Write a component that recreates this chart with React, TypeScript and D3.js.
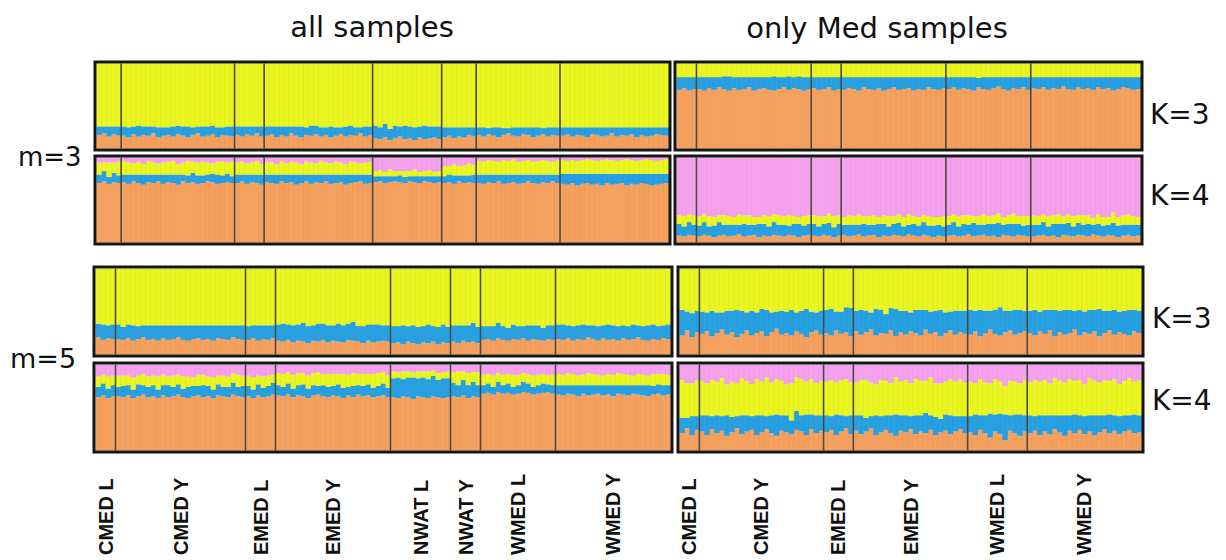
import React from "react";
import * as d3 from "d3";

// population groups, left to right
const groupsAll = ["CMED L", "CMED Y", "EMED L", "EMED Y", "NWAT L", "NWAT Y", "WMED L", "WMED Y"];
const groupsMed = ["CMED L", "CMED Y", "EMED L", "EMED Y", "WMED L", "WMED Y"];

// ancestry proportions (%) per individual, one inner array per group
// m=3, all samples, K=3 (yellow = rest)
const all3K3Orange = [
  [16, 18, 14, 17, 15],
  [15, 13, 17, 14, 16, 15, 18, 13, 15, 16, 14, 17, 15, 13, 16, 18, 14, 15, 17, 13, 16, 15, 14],
  [16, 14, 17, 15, 18, 14],
  [15, 17, 13, 16, 14, 18, 15, 13, 16, 15, 17, 14, 16, 13, 15, 17, 14, 16, 15, 18, 14, 16],
  [12, 11, 13, 10, 12, 14, 11, 12, 10, 13, 11, 12, 13, 11],
  [13, 15, 12, 14, 13, 16, 14],
  [16, 14, 17, 15, 13, 16, 18, 15, 14, 17, 16, 13, 15, 17, 14, 16, 15],
  [15, 17, 14, 16, 15, 13, 17, 16, 14, 15, 18, 14, 16, 15, 17, 13, 16, 14, 15, 17, 16, 15],
];
const all3K3Blue = [
  [10, 8, 12, 9, 11],
  [11, 12, 9, 13, 10, 11, 8, 12, 10, 9, 12, 10, 11, 13, 9, 8, 12, 11, 10, 12, 9, 11, 12],
  [10, 12, 9, 11, 8, 12],
  [11, 9, 13, 10, 12, 8, 11, 13, 9, 12, 10, 11, 9, 13, 10, 8, 12, 11, 10, 7, 12, 10],
  [15, 14, 16, 13, 15, 12, 16, 14, 15, 13, 16, 14, 13, 15],
  [12, 10, 13, 11, 12, 9, 11],
  [9, 11, 7, 10, 12, 8, 6, 10, 11, 8, 9, 12, 10, 7, 11, 9, 10],
  [10, 8, 11, 9, 10, 12, 8, 9, 11, 10, 7, 11, 9, 10, 8, 12, 9, 11, 10, 8, 9, 10],
];

// m=3, all samples, K=4 (pink = rest)
const all3K4Orange = [
  [70, 72, 69, 71, 70],
  [71, 69, 72, 70, 68, 71, 70, 72, 69, 71, 70, 68, 72, 70, 71, 69, 70, 72, 71, 69, 70, 71, 70],
  [70, 72, 69, 71, 70, 68],
  [71, 70, 69, 72, 70, 71, 68, 70, 72, 69, 71, 70, 72, 69, 70, 71, 68, 70, 71, 72, 69, 70],
  [71, 72, 70, 71, 72, 71, 70, 72, 71, 70, 72, 71, 70, 71],
  [70, 71, 69, 72, 70, 71, 70],
  [70, 69, 71, 70, 72, 69, 70, 71, 69, 70, 72, 70, 69, 71, 70, 72, 70],
  [69, 68, 70, 67, 69, 70, 68, 69, 67, 70, 68, 69, 70, 67, 69, 68, 70, 69, 67, 68, 69, 70],
];
const all3K4Blue = [
  [10, 12, 8, 11, 9],
  [9, 11, 8, 10, 12, 9, 10, 8, 11, 9, 10, 12, 8, 9, 11, 10, 9, 8, 10, 11, 9, 10, 8],
  [10, 8, 11, 9, 10, 12],
  [9, 10, 11, 8, 10, 9, 12, 10, 8, 11, 9, 10, 8, 11, 10, 9, 12, 10, 9, 8, 11, 10],
  [7, 6, 8, 7, 6, 8, 7, 6, 7, 8, 6, 7, 8, 7],
  [8, 9, 10, 7, 9, 8, 10],
  [10, 11, 9, 10, 8, 11, 10, 9, 11, 10, 8, 10, 11, 9, 10, 8, 10],
  [12, 13, 11, 14, 12, 11, 13, 12, 14, 11, 13, 12, 11, 14, 12, 13, 11, 12, 14, 13, 12, 11],
];
const all3K4Yellow = [
  [14, 10, 17, 12, 16],
  [16, 14, 13, 15, 12, 16, 14, 13, 14, 15, 16, 12, 14, 17, 13, 15, 16, 14, 12, 15, 16, 13, 17],
  [14, 15, 13, 14, 16, 12],
  [15, 14, 12, 16, 13, 15, 14, 12, 15, 14, 13, 16, 14, 13, 15, 14, 12, 15, 14, 13, 14, 15],
  [6, 7, 5, 8, 6, 5, 7, 6, 8, 5, 6, 7, 5, 6],
  [12, 10, 13, 11, 12, 14, 11],
  [16, 15, 17, 16, 15, 17, 16, 18, 15, 16, 17, 15, 16, 17, 16, 15, 17],
  [16, 15, 16, 15, 16, 17, 16, 15, 16, 17, 16, 15, 16, 17, 16, 15, 16, 17, 16, 15, 16, 17],
];

// m=3, Med samples, K=3 (yellow = rest)
const med3K3Orange = [
  [69, 71, 68, 70],
  [70, 68, 71, 69, 72, 70, 68, 71, 69, 70, 72, 68, 70, 71, 69, 68, 70, 72, 69, 71, 70, 68, 70],
  [71, 69, 70, 72, 68, 70],
  [69, 71, 70, 68, 72, 70, 69, 71, 68, 70, 72, 69, 70, 71, 68, 70, 69, 72, 70, 69, 71],
  [70, 72, 69, 71, 70, 68, 72, 70, 69, 71, 73, 70, 68, 71, 70, 72, 69],
  [71, 70, 72, 69, 71, 70, 73, 70, 69, 72, 70, 71, 69, 72, 70, 71, 68, 70, 72, 71, 69, 70],
];
const med3K3Blue = [
  [15, 13, 16, 14],
  [14, 16, 13, 15, 12, 15, 17, 13, 15, 14, 12, 16, 14, 13, 15, 17, 14, 12, 16, 13, 15, 16, 14],
  [13, 15, 14, 12, 16, 14],
  [15, 13, 14, 16, 12, 14, 15, 13, 16, 14, 12, 15, 14, 13, 16, 14, 15, 12, 14, 15, 13],
  [14, 12, 15, 13, 14, 16, 11, 14, 15, 13, 11, 14, 16, 13, 14, 12, 15],
  [13, 14, 12, 15, 13, 14, 11, 14, 15, 12, 14, 13, 15, 12, 14, 13, 16, 14, 12, 13, 15, 14],
];

// m=3, Med samples, K=4 (pink = rest)
const med3K4Orange = [
  [8, 7, 9, 8],
  [7, 9, 8, 6, 8, 9, 7, 8, 10, 7, 8, 9, 6, 8, 7, 9, 8, 7, 9, 8, 6, 8, 9],
  [8, 7, 9, 8, 6, 8],
  [9, 7, 8, 10, 7, 8, 9, 6, 8, 7, 9, 8, 7, 10, 8, 7, 9, 8, 6, 8, 7],
  [8, 9, 7, 8, 10, 7, 8, 9, 7, 8, 6, 9, 8, 7, 9, 8, 7],
  [7, 8, 9, 7, 8, 6, 9, 8, 7, 9, 8, 7, 10, 8, 7, 9, 8, 6, 8, 9, 7, 8],
];
const med3K4Blue = [
  [14, 12, 15, 13],
  [13, 15, 11, 14, 16, 12, 14, 13, 11, 15, 13, 12, 16, 14, 12, 15, 13, 14, 11, 14, 16, 12, 13],
  [14, 12, 13, 15, 12, 14],
  [12, 14, 13, 11, 15, 13, 12, 16, 14, 12, 13, 15, 12, 11, 14, 13, 15, 12, 14, 13, 12],
  [13, 15, 12, 14, 11, 16, 13, 12, 15, 14, 17, 12, 14, 15, 13, 12, 14],
  [14, 13, 15, 12, 14, 16, 13, 15, 12, 14, 13, 15, 11, 14, 13, 12, 15, 14, 13, 12, 14, 13],
];
const med3K4Yellow = [
  [10, 12, 9, 11],
  [11, 9, 12, 10, 8, 11, 10, 9, 12, 10, 11, 9, 8, 10, 12, 9, 11, 10, 12, 9, 8, 11, 10],
  [10, 12, 9, 11, 13, 10],
  [9, 11, 10, 12, 9, 10, 11, 8, 10, 12, 9, 10, 11, 12, 9, 10, 8, 11, 10, 9, 12],
  [10, 9, 12, 10, 11, 8, 10, 12, 9, 10, 11, 9, 10, 12, 9, 11, 10],
  [11, 10, 9, 12, 10, 11, 9, 10, 12, 9, 11, 10, 8, 11, 10, 9, 12, 10, 11, 12, 10, 9],
];

// m=5, all samples, K=3 (yellow = rest)
const all5K3Orange = [
  [20, 17, 19, 18],
  [18, 17, 19, 16, 18, 20, 17, 18, 16, 19, 17, 18, 20, 17, 16, 18, 19, 17, 18, 16, 19, 18, 17, 20, 18, 17],
  [17, 19, 16, 18, 17, 19],
  [16, 15, 17, 14, 16, 15, 13, 16, 15, 17, 14, 16, 15, 14, 17, 16, 15, 13, 16, 14, 15, 16, 15],
  [13, 14, 12, 15, 13, 12, 14, 13, 15, 12, 14, 13],
  [15, 13, 16, 14, 15, 13],
  [17, 18, 16, 19, 17, 16, 18, 17, 19, 16, 18, 17, 16, 18, 17],
  [18, 17, 19, 16, 18, 17, 20, 18, 16, 19, 17, 18, 16, 19, 17, 18, 20, 17, 16, 18, 17, 19, 18],
];
const all5K3Blue = [
  [16, 18, 15, 17],
  [17, 15, 16, 18, 15, 14, 17, 16, 18, 15, 17, 16, 14, 17, 18, 16, 15, 17, 16, 18, 15, 16, 17, 14, 16, 17],
  [16, 15, 18, 16, 17, 15],
  [19, 21, 18, 20, 19, 22, 20, 18, 21, 19, 20, 18, 21, 20, 19, 22, 18, 20, 19, 21, 20, 18, 19],
  [20, 19, 22, 18, 21, 20, 19, 22, 18, 20, 21, 19],
  [19, 21, 18, 20, 22, 19],
  [16, 15, 17, 18, 16, 15, 17, 16, 14, 18, 16, 17, 15, 16, 17],
  [17, 18, 15, 17, 16, 18, 14, 16, 17, 15, 18, 16, 17, 15, 16, 17, 14, 16, 18, 17, 16, 15, 17],
];

// m=5, all samples, K=4 (pink = rest)
const all5K4Orange = [
  [62, 64, 61, 63],
  [63, 62, 64, 61, 63, 65, 62, 63, 61, 64, 62, 63, 65, 62, 61, 63, 64, 62, 63, 61, 64, 63, 62, 65, 63, 62],
  [63, 61, 64, 62, 63, 65],
  [64, 63, 65, 62, 64, 63, 61, 64, 65, 63, 62, 64, 63, 61, 64, 62, 65, 63, 64, 62, 63, 64, 62],
  [62, 61, 63, 62, 60, 63, 62, 61, 63, 62, 61, 62],
  [63, 62, 64, 61, 63, 62],
  [66, 67, 65, 68, 66, 67, 65, 66, 68, 67, 65, 66, 67, 68, 66],
  [65, 64, 66, 65, 63, 66, 64, 65, 66, 64, 65, 63, 66, 65, 64, 66, 65, 64, 63, 65, 66, 64, 65],
];
const all5K4Blue = [
  [12, 14, 11, 13],
  [11, 13, 12, 10, 14, 11, 12, 13, 10, 12, 14, 11, 12, 10, 13, 12, 11, 14, 12, 10, 13, 11, 12, 14, 11, 13],
  [12, 10, 13, 11, 12, 14],
  [12, 11, 13, 10, 12, 14, 11, 12, 10, 13, 12, 11, 14, 12, 10, 13, 11, 12, 13, 11, 12, 14, 11],
  [22, 24, 20, 23, 25, 21, 23, 22, 24, 20, 23, 22],
  [16, 14, 18, 15, 17, 14],
  [10, 11, 9, 12, 10, 11, 9, 10, 12, 11, 9, 10, 11, 9, 10],
  [11, 12, 10, 11, 13, 10, 12, 11, 10, 12, 11, 13, 10, 11, 12, 10, 11, 12, 13, 10, 11, 12, 11],
];
const all5K4Yellow = [
  [12, 10, 14, 11],
  [13, 12, 11, 14, 10, 13, 12, 11, 15, 12, 10, 13, 11, 14, 12, 10, 13, 12, 11, 14, 10, 13, 12, 11, 14, 12],
  [12, 14, 10, 13, 12, 9],
  [14, 15, 13, 16, 14, 13, 15, 14, 16, 13, 15, 14, 12, 16, 14, 15, 13, 14, 12, 16, 15, 13, 14],
  [8, 6, 9, 7, 6, 8, 7, 9, 6, 8, 7, 8],
  [12, 16, 10, 14, 11, 15],
  [12, 11, 13, 10, 12, 11, 14, 12, 10, 11, 13, 12, 11, 10, 12],
  [13, 12, 14, 13, 11, 12, 14, 13, 12, 11, 13, 12, 14, 13, 12, 11, 13, 12, 11, 14, 12, 13, 12],
];

// m=5, Med samples, K=3 (yellow = rest)
const med5K3Orange = [
  [22, 28, 20, 26],
  [24, 27, 21, 25, 29, 23, 26, 20, 24, 28, 22, 25, 27, 21, 26, 30, 23, 25, 22, 27, 24, 20, 26, 28, 23],
  [25, 22, 28, 24, 26, 21],
  [27, 23, 26, 29, 22, 25, 24, 28, 21, 26, 23, 27, 25, 22, 29, 24, 26, 21, 25, 28, 23, 26, 24],
  [23, 27, 21, 25, 29, 24, 22, 26, 28, 23, 25, 27],
  [25, 22, 27, 24, 28, 21, 26, 23, 25, 29, 22, 26, 24, 27, 21, 25, 28, 23, 26, 24, 22, 27, 25],
];
const med5K3Blue = [
  [30, 22, 28, 25],
  [26, 22, 30, 24, 20, 28, 25, 32, 27, 21, 29, 24, 26, 31, 23, 20, 28, 25, 30, 22, 27, 33, 24, 21, 28],
  [27, 31, 22, 26, 29, 33],
  [24, 29, 25, 20, 31, 27, 23, 26, 32, 25, 28, 22, 27, 30, 23, 26, 25, 31, 24, 22, 28, 25, 27],
  [29, 24, 31, 26, 22, 28, 33, 25, 23, 29, 27, 24],
  [26, 30, 23, 28, 24, 31, 25, 29, 27, 22, 30, 24, 28, 25, 32, 26, 23, 29, 24, 27, 30, 25, 26],
];

// m=5, Med samples, K=4 (pink = rest)
const med5K4Orange = [
  [20, 26, 18, 24],
  [22, 18, 25, 20, 23, 17, 21, 26, 19, 22, 24, 18, 21, 25, 20, 17, 23, 21, 19, 24, 22, 18, 25, 20, 23],
  [21, 24, 18, 22, 26, 19],
  [23, 19, 22, 26, 18, 21, 24, 20, 17, 23, 21, 25, 19, 22, 20, 24, 18, 21, 23, 19, 22, 25, 20],
  [21, 18, 24, 20, 15, 22, 19, 12, 23, 20, 17, 22],
  [20, 23, 18, 22, 19, 25, 21, 17, 23, 20, 24, 19, 22, 18, 21, 25, 20, 23, 19, 22, 24, 20, 21],
];
const med5K4Blue = [
  [18, 12, 22, 16],
  [19, 23, 15, 21, 17, 24, 18, 14, 22, 19, 16, 23, 20, 15, 21, 25, 18, 20, 16, 22, 19, 24, 17, 21, 18],
  [20, 16, 24, 19, 14, 22],
  [18, 22, 16, 14, 23, 19, 17, 21, 25, 18, 20, 15, 22, 19, 24, 17, 21, 16, 19, 22, 18, 15, 20],
  [19, 24, 17, 21, 28, 20, 24, 30, 18, 22, 25, 19],
  [21, 17, 23, 19, 22, 16, 20, 24, 18, 22, 17, 21, 19, 23, 20, 16, 22, 18, 21, 19, 17, 22, 20],
];
const med5K4Yellow = [
  [44, 40, 38, 42],
  [40, 37, 42, 39, 44, 36, 41, 38, 43, 40, 37, 42, 39, 45, 38, 41, 40, 36, 43, 39, 42, 38, 41, 37, 40],
  [39, 42, 37, 41, 43, 38],
  [38, 41, 44, 39, 36, 42, 40, 37, 43, 39, 41, 38, 42, 40, 37, 44, 39, 41, 38, 42, 40, 43, 39],
  [40, 36, 42, 38, 35, 41, 37, 33, 40, 38, 36, 41],
  [38, 42, 39, 41, 37, 43, 40, 38, 42, 39, 41, 37, 43, 40, 38, 41, 39, 42, 37, 40, 43, 38, 41],
];

const colors: Record<string, string> = {
  orange: "#f6a05e",
  blue: "#27a0e2",
  yellow: "#e9f61f",
  pink: "#f5a1ee",
};

const makeX = (x: number, w: number, counts: number[]) =>
  d3.scaleBand<number>().domain(d3.range(d3.sum(counts))).range([x, x + w]);

type Layer = { key: string; values: number[][] };

const Panel = ({ x, y, w, h, layers, rest }: { x: number; y: number; w: number; h: number; layers: Layer[]; rest: string }) => {
  const inset = 1.5;
  const ix = x + inset, iy = y + inset, iw = w - 2 * inset, ih = h - 2 * inset;
  const counts = layers[0].values.map((g) => g.length);
  const n = d3.sum(counts);
  const xs = makeX(ix, iw, counts);
  const ys = d3.scaleLinear().domain([0, 100]).range([iy + ih, iy]);
  const flat = layers.map((l) => l.values.flat());
  const rows = d3.range(n).map((i) => {
    const r: Record<string, number> = {};
    let s = 0;
    layers.forEach((l, j) => {
      const v = flat[j][i] ?? 0;
      r[l.key] = v;
      s += v;
    });
    r[rest] = Math.max(0, 100 - s);
    return r;
  });
  const keys = [...layers.map((l) => l.key), rest];
  const series = d3.stack<Record<string, number>>().keys(keys)(rows);
  const bounds = (Array.from(d3.cumsum(counts)) as number[]).slice(0, -1);
  const bw = xs.bandwidth();

  return (
    <g>
      {series.map((s) => (
        <g key={s.key} fill={colors[s.key]}>
          {s.map((d, i) => (
            <rect
              key={i}
              x={xs(i)}
              y={ys(d[1])}
              width={bw + 0.4}
              height={Math.max(0, ys(d[0]) - ys(d[1]))}
            />
          ))}
        </g>
      ))}
      {d3.range(n).map((i) => (
        <line key={"s" + i} x1={(xs(i) as number) + bw} x2={(xs(i) as number) + bw} y1={iy} y2={iy + ih}
          stroke="#000" strokeOpacity={0.05} strokeWidth={0.8} />
      ))}
      {bounds.map((b) => (
        <line key={"b" + b} x1={xs(b)} x2={xs(b)} y1={iy} y2={iy + ih} stroke="#4a4a4a" strokeWidth={1.6} />
      ))}
      <rect x={x} y={y} width={w} height={h} fill="none" stroke="#161616" strokeWidth={3} />
    </g>
  );
};

const k3 = (o: number[][], b: number[][]): Layer[] => [
  { key: "orange", values: o },
  { key: "blue", values: b },
];
const k4 = (o: number[][], b: number[][], yl: number[][]): Layer[] => [
  { key: "orange", values: o },
  { key: "blue", values: b },
  { key: "yellow", values: yl },
];

const App = () => {
  const allX = 94, allW = 578, medX = 678, medW = 465;
  const xAll5 = makeX(allX + 1.5, allW - 3, all5K3Orange.map((g) => g.length));
  const xMed5 = makeX(medX + 1.5, medW - 3, med5K3Orange.map((g) => g.length));
  const centers = (xs: d3.ScaleBand<number>, groups: number[][]) => {
    let start = 0;
    return groups.map((g) => {
      const c = (xs(start) as number) + (g.length * xs.bandwidth()) / 2;
      start += g.length;
      return c;
    });
  };
  const cAll = centers(xAll5, all5K3Orange);
  const cMed = centers(xMed5, med5K3Orange);
  const sideFont = "DejaVu Sans, sans-serif";
  const labelFont = "Liberation Sans, Arial, sans-serif";

  return (
    <svg width={1226} height={560} style={{ position: "absolute", left: 0, top: 0, background: "#fff" }}>
      <text x={372} y={37} textAnchor="middle" fontFamily={sideFont} fontSize={29} fill="#111">all samples</text>
      <text x={877} y={38} textAnchor="middle" fontFamily={sideFont} fontSize={29} fill="#111">only Med samples</text>

      <Panel x={95} y={62} w={575} h={88} layers={k3(all3K3Orange, all3K3Blue)} rest="yellow" />
      <Panel x={95} y={156} w={575} h={88} layers={k4(all3K4Orange, all3K4Blue, all3K4Yellow)} rest="pink" />
      <Panel x={675} y={62} w={467} h={88} layers={k3(med3K3Orange, med3K3Blue)} rest="yellow" />
      <Panel x={675} y={156} w={467} h={88} layers={k4(med3K4Orange, med3K4Blue, med3K4Yellow)} rest="pink" />

      <Panel x={allX} y={267} w={allW} h={89} layers={k3(all5K3Orange, all5K3Blue)} rest="yellow" />
      <Panel x={allX} y={363} w={allW} h={89} layers={k4(all5K4Orange, all5K4Blue, all5K4Yellow)} rest="pink" />
      <Panel x={medX} y={267} w={medW} h={89} layers={k3(med5K3Orange, med5K3Blue)} rest="yellow" />
      <Panel x={medX} y={363} w={medW} h={89} layers={k4(med5K4Orange, med5K4Blue, med5K4Yellow)} rest="pink" />

      <text x={18} y={166} fontFamily={sideFont} fontSize={26} fill="#111">m=3</text>
      <text x={10} y={368} fontFamily={sideFont} fontSize={27} fill="#111">m=5</text>
      <text x={1150} y={124} fontFamily={sideFont} fontSize={28} fill="#111">K=3</text>
      <text x={1150} y={205} fontFamily={sideFont} fontSize={28} fill="#111">K=4</text>
      <text x={1152} y={328} fontFamily={sideFont} fontSize={28} fill="#111">K=3</text>
      <text x={1152} y={410} fontFamily={sideFont} fontSize={28} fill="#111">K=4</text>

      {groupsAll.map((g, i) => (
        <text key={"a" + g} transform={`translate(${cAll[i] + 7},555) rotate(-90)`} fontFamily={labelFont}
          fontWeight="bold" fontSize={20} fill="#111">{g}</text>
      ))}
      {groupsMed.map((g, i) => (
        <text key={"m" + g} transform={`translate(${cMed[i] + 7},555) rotate(-90)`} fontFamily={labelFont}
          fontWeight="bold" fontSize={20} fill="#111">{g}</text>
      ))}
    </svg>
  );
};

export default App;
